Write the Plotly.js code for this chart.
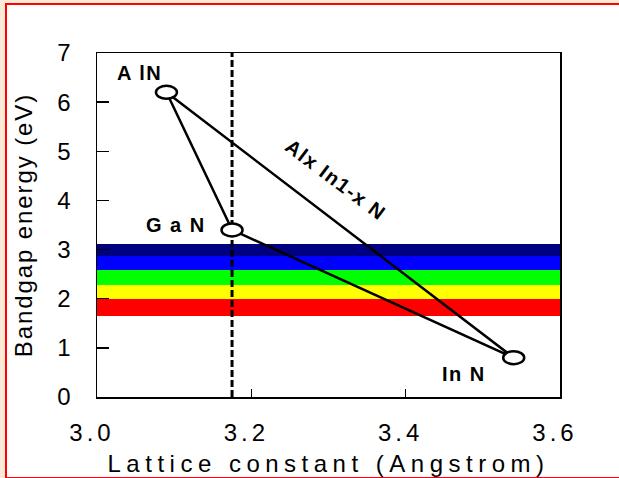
<!DOCTYPE html>
<html>
<head>
<meta charset="utf-8">
<script src="https://cdn.plot.ly/plotly-3.0.1.min.js"></script>
<style>
  html, body { margin: 0; padding: 0; background: #FAEBD7; width: 619px; height: 478px; overflow: hidden; }
  #frame { position: absolute; left: 5px; top: 3px; width: 620px; height: 472px; background: #ffffff;
           border-left: 2px solid #ff0000; border-top: 2px solid #ff0000; border-bottom: 2px solid #ff0000; }
  #chart { position: absolute; left: 0; top: 0; width: 619px; height: 478px; }
  .xtick text { letter-spacing: 4px; }
  .g-xtitle text { letter-spacing: 5.5px; }
  .g-ytitle text { letter-spacing: 1.9px; }
  .annotation-text { letter-spacing: 1.5px; }
</style>
</head>
<body>
<div id="frame"></div>
<div id="chart"></div>
<script>
// Materials: lattice constant (Angstrom) and bandgap energy (eV)
const materials = ['AlN', 'GaN', 'InN'];
const lattice = [3.09, 3.175, 3.54];
const bandgap = [6.2, 3.4, 0.8];

// Visible-spectrum colour bands (eV)
const bandLow  = [1.65, 2.0, 2.28, 2.58, 2.87];
const bandHigh = [2.0, 2.28, 2.58, 2.87, 3.12];
const bandColors = ['#ff0000', '#ffff00', '#00ff00', '#0000ff', '#000080'];

// Axis ranges and ticks
const xRange = [3.0, 3.6];
const yRange = [0, 7];
const xTicks = [3.0, 3.2, 3.4, 3.6];
const xTickText = ['3.0', '3.2', '3.4', '3.6'];
const yTicks = [0, 1, 2, 3, 4, 5, 6, 7];

const FONT = 'Liberation Sans, Arial, sans-serif';

const xMid = (xRange[0] + xRange[1]) / 2;
const xWidth = xRange[1] - xRange[0];

const traces = [];
// colour bands
traces.push({
  type: 'bar',
  x: bandLow.map(() => xMid),
  y: bandLow.map((lo, i) => bandHigh[i] - lo),
  base: bandLow,
  width: bandLow.map(() => xWidth),
  marker: { color: bandColors, line: { width: 0 } },
  hoverinfo: 'skip',
  showlegend: false
});
// dashed line at GaN lattice constant
traces.push({
  type: 'scatter', mode: 'lines',
  x: [lattice[1], lattice[1]], y: [yRange[0], yRange[1]],
  line: { color: '#000', width: 3, dash: '7px,3px' },
  hoverinfo: 'skip', showlegend: false
});
// triangle AlN - GaN - InN - AlN
traces.push({
  type: 'scatter', mode: 'lines',
  x: [lattice[0], lattice[1], lattice[2], lattice[0]],
  y: [bandgap[0], bandgap[1], bandgap[2], bandgap[0]],
  line: { color: '#000', width: 2.5 },
  hoverinfo: 'skip', showlegend: false
});

// open ellipse markers at each material
const shapes = materials.map((m, i) => ({
  type: 'circle', layer: 'above',
  xref: 'x', yref: 'y',
  xsizemode: 'pixel', ysizemode: 'pixel',
  xanchor: lattice[i], yanchor: bandgap[i],
  x0: -10.5, x1: 10.5, y0: -6.5, y1: 6.5,
  fillcolor: '#ffffff',
  line: { color: '#000', width: 2.5 }
}));

const labelFont = { family: FONT, size: 20, color: '#000', weight: 'bold' };
const annotations = [
  { text: 'A lN', x: 3.055, y: 6.59 },
  { text: 'G a N', x: 3.102, y: 3.49 },
  { text: 'In N', x: 3.475, y: 0.47 },
  { text: 'Alx In1-x N', x: 3.31, y: 4.42, textangle: 37 }
].map(a => Object.assign({ xref: 'x', yref: 'y', showarrow: false, font: labelFont }, a));

const layout = {
  width: 619, height: 478,
  margin: { l: 97, r: 59, t: 53, b: 81 },
  paper_bgcolor: 'rgba(0,0,0,0)',
  plot_bgcolor: '#ffffff',
  barmode: 'overlay',
  bargap: 0,
  showlegend: false,
  font: { family: FONT, color: '#000' },
  xaxis: {
    range: xRange, tickvals: xTicks, ticktext: xTickText,
    ticks: 'inside', ticklen: 8, tickwidth: 1.5, tickcolor: '#000',
    showgrid: false, zeroline: false,
    showline: true, linecolor: '#000', linewidth: 1.5, mirror: true,
    tickfont: { family: FONT, size: 24, color: '#000' },
    ticklabelstandoff: 14,
    ticklabelshift: -5,
    title: { text: 'Lattice constant (Angstrom)', font: { family: FONT, size: 24, color: '#000' }, standoff: 10 }
  },
  yaxis: {
    range: yRange, tickvals: yTicks,
    ticks: 'inside', ticklen: 12, tickwidth: 1.5, tickcolor: '#000',
    showgrid: false, zeroline: false,
    showline: true, linecolor: '#000', linewidth: 1.5, mirror: true,
    tickfont: { family: FONT, size: 24, color: '#000' },
    ticklabelstandoff: 20,
    title: { text: 'Bandgap energy (eV)', font: { family: FONT, size: 24, color: '#000' }, standoff: 18 }
  },
  shapes: shapes,
  annotations: annotations
};

Plotly.newPlot('chart', traces, layout, { staticPlot: true, displayModeBar: false });
</script>
</body>
</html>
